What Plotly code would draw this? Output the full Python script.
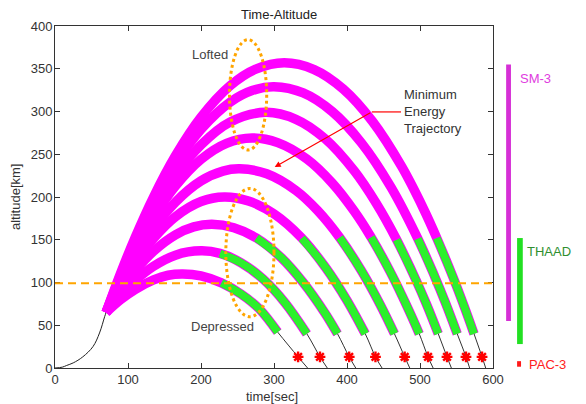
import plotly.graph_objects as go

# ---------------- data ----------------
boost_t = [0, 10, 16, 25, 38, 52, 61, 68, 70]
boost_h = [0, 1, 3, 6, 13, 25, 41, 60, 65]

t1 = [70, 90, 110, 135, 155, 175, 200, 228, 255, 280, 305, 333, 346]
h1 = [65, 80, 92, 103, 108.5, 110, 107.7, 99.6, 86.4, 69, 42, 13, 0]
t2 = [70, 90, 110, 135, 165, 200, 226, 255, 285, 315, 345, 363, 373]
h2 = [65, 85.5, 102.5, 119, 132, 137, 134, 123, 104, 76.4, 40, 13, 0]
t3 = [70, 90, 110, 135, 165, 190, 215, 245, 276, 310, 340, 370, 387, 403, 412]
h3 = [65, 91.4, 114, 136.6, 155.7, 165, 168, 164, 152, 129, 100, 64, 40, 13, 0]
t4 = [70, 90, 110, 135, 165, 200, 232, 265, 300, 338, 370, 400, 425, 439, 448]
h4 = [65, 96.4, 123.5, 151.6, 177, 194.7, 200, 195.3, 180.2, 152, 118.3, 79, 40, 13, 0]
t5 = [70, 90, 110, 135, 165, 200, 230, 253, 290, 330, 360, 390, 420, 445, 465, 479, 486]
h5 = [65, 99.6, 130.3, 163.1, 194.1, 218.9, 230.3, 233, 227.1, 207.6, 183.9, 152.5, 113.4, 74.9, 40, 13, 0]
t6 = [70, 90, 110, 135, 165, 200, 235, 270, 305, 345, 380, 410, 433, 460, 485, 499, 511, 518]
h6 = [65, 103.8, 138.4, 176.1, 212.8, 244, 262.8, 269, 263.6, 244.4, 216.1, 183.3, 152.9, 111.2, 67, 40, 13, 0]
t7 = [70, 90, 110, 135, 165, 200, 240, 288, 330, 370, 410, 440, 468, 495, 510, 525, 537, 543]
h7 = [65, 106.1, 143.1, 183.8, 224.6, 260.9, 287.7, 299, 290.9, 268.1, 230.5, 192.7, 150, 101.9, 72.3, 40, 13, 0]
t8 = [70, 90, 110, 135, 165, 200, 240, 270, 300, 340, 380, 420, 460, 497, 520, 535, 551, 563, 568]
h8 = [65, 108.9, 148.9, 193.1, 238.1, 279.1, 311, 324.5, 329, 321.7, 299.7, 263, 211.8, 151.3, 107.3, 76.1, 40, 13, 0]
t9 = [70, 90, 110, 135, 165, 200, 240, 275, 314, 355, 395, 435, 475, 505, 523, 545, 560, 574, 585, 590]
h9 = [65, 111.1, 153.1, 200, 248.2, 293.3, 330.2, 349.5, 357, 349.1, 326.2, 288.3, 235.4, 185.9, 152, 106.7, 73.2, 40, 13, 0]

thaad_start = [228, 226, 276, 338, 390, 433, 468, 497, 523]
thaad_end = [305, 345, 387, 425, 465, 499, 525, 551, 574]
pac_t = [333, 363, 403, 439, 479, 511, 537, 563, 585]
pac_h = [13, 13, 13, 13, 13, 13, 13, 13, 13]

dash_level = [99]
x_ticks = [0, 100, 200, 300, 400, 500, 600]
y_ticks = [0, 50, 100, 150, 200, 250, 300, 350, 400]

traj_t = [t1, t2, t3, t4, t5, t6, t7, t8, t9]
traj_h = [h1, h2, h3, h4, h5, h6, h7, h8, h9]

MAG = "#ff00ff"
GRN = "#2cf02c"
ORANGE = "#ffa500"
FONT = "Liberation Sans, Arial, sans-serif"

fig = go.Figure()

# thin black trajectory lines (under the bands)
fig.add_trace(go.Scatter(x=boost_t, y=boost_h, mode="lines",
                         line=dict(color="#222", width=1, shape="spline"),
                         hoverinfo="skip"))
for tt, hh in zip(traj_t, traj_h):
    fig.add_trace(go.Scatter(x=tt, y=hh, mode="lines",
                             line=dict(color="#333", width=1, shape="spline"),
                             hoverinfo="skip"))

# magenta bands (SM-3 coverage) up to the end of THAAD part
for tt, hh, te in zip(traj_t, traj_h, thaad_end):
    xs = [a for a in tt if a <= te]
    ys = [b for a, b in zip(tt, hh) if a <= te]
    fig.add_trace(go.Scatter(x=xs, y=ys, mode="lines",
                             line=dict(color=MAG, width=9.5, shape="spline"),
                             hoverinfo="skip"))

# green bands (THAAD)
for tt, hh, ts, te in zip(traj_t, traj_h, thaad_start, thaad_end):
    xs = [a for a in tt if ts <= a <= te]
    ys = [b for a, b in zip(tt, hh) if ts <= a <= te]
    fig.add_trace(go.Scatter(x=xs, y=ys, mode="lines",
                             line=dict(color=GRN, width=8, shape="spline"),
                             hoverinfo="skip"))

# PAC-3 markers
fig.add_trace(go.Scatter(x=pac_t, y=pac_h, mode="markers",
                         marker=dict(symbol="asterisk-open", size=9, color="red",
                                     line=dict(color="red", width=2.4)),
                         hoverinfo="skip"))

shapes = []
# dashed 100 km line
shapes.append(dict(type="line", xref="x", yref="y", x0=0, x1=600,
                   y0=dash_level[0], y1=dash_level[0],
                   line=dict(color=ORANGE, width=2, dash="8px,5px")))
# dotted ellipses
shapes.append(dict(type="circle", xref="x", yref="y", x0=239, x1=290, y0=255, y1=384,
                   line=dict(color=ORANGE, width=3, dash="dot")))
shapes.append(dict(type="circle", xref="x", yref="y", x0=234, x1=300, y0=60, y1=210,
                   line=dict(color=ORANGE, width=3, dash="dot")))
# red pointer horizontal part
shapes.append(dict(type="line", xref="x", yref="y", x0=434, x1=474, y0=299.5, y1=299.5,
                   line=dict(color="red", width=1.2)))
# coverage bars at right
shapes.append(dict(type="rect", xref="paper", yref="y", x0=1.030, x1=1.041, y0=55, y1=355,
                   fillcolor="#d62fd6", line=dict(width=0)))
shapes.append(dict(type="rect", xref="paper", yref="y", x0=1.055, x1=1.068, y0=28, y1=152,
                   fillcolor="#22e022", line=dict(width=0)))
shapes.append(dict(type="rect", xref="paper", yref="y", x0=1.055, x1=1.064, y0=1.5, y1=8,
                   fillcolor="#ff1a1a", line=dict(width=0)))

annotations = [
    dict(x=212, y=367, xref="x", yref="y", text="Lofted", showarrow=False,
         font=dict(family=FONT, size=13, color="#444")),
    dict(x=229, y=48, xref="x", yref="y", text="Depressed", showarrow=False,
         font=dict(family=FONT, size=13, color="#444")),
    dict(x=476, y=299.5, xref="x", yref="y", xanchor="left", align="left",
         text="Minimum<br>Energy<br>Trajectory", showarrow=False,
         font=dict(family=FONT, size=13, color="#333")),
    dict(x=301, y=235, xref="x", yref="y", ax=434, ay=299.5, axref="x", ayref="y",
         text="", showarrow=True, arrowhead=2, arrowsize=1, arrowwidth=1.2,
         arrowcolor="red"),
    dict(x=1.057, y=339, xref="paper", yref="y", xanchor="left", text="SM-3",
         showarrow=False, font=dict(family=FONT, size=13, color="#e03ce0")),
    dict(x=1.073, y=136, xref="paper", yref="y", xanchor="left", text="THAAD",
         showarrow=False, font=dict(family=FONT, size=13, color="#2f8f2f")),
    dict(x=1.078, y=4, xref="paper", yref="y", xanchor="left", text="PAC-3",
         showarrow=False, font=dict(family=FONT, size=13, color="#ff2020")),
    dict(x=0.495, y=0, xref="paper", yref="paper", yanchor="middle", yshift=-28,
         text="time[sec]", showarrow=False, font=dict(family=FONT, size=13, color="#333")),
    dict(x=0, y=0.5, xref="paper", yref="paper", xanchor="center", xshift=-40,
         text="altitude[km]", textangle=-90, showarrow=False,
         font=dict(family=FONT, size=13, color="#333")),
]

axis_common = dict(showgrid=False, zeroline=False, showline=True, linecolor="#333",
                   linewidth=1, mirror="ticks", ticks="inside", ticklen=5,
                   tickcolor="#333", tickfont=dict(family=FONT, size=13, color="#333"))

fig.update_layout(
    width=578, height=396,
    margin=dict(l=47, r=93, t=18, b=36),
    paper_bgcolor="white", plot_bgcolor="white",
    showlegend=False,
    title=dict(text="Time-Altitude", x=0.469, xanchor="center", y=0.995, yanchor="top",
               yref="container", font=dict(family=FONT, size=13, color="#222")),
    xaxis=dict(range=[0, 600], tickvals=x_ticks, ticklabelstandoff=-1, **axis_common),
    yaxis=dict(range=[0, 400], tickvals=y_ticks, ticklabelstandoff=-1, **axis_common),
    shapes=shapes,
    annotations=annotations,
)

fig.write_html("out.html")
